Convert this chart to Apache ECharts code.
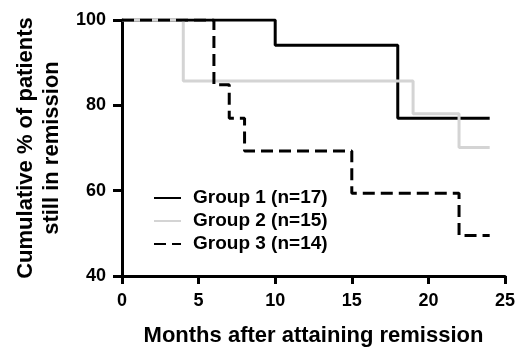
<!DOCTYPE html>
<html>
<head>
<meta charset="utf-8">
<script src="https://cdn.jsdelivr.net/npm/echarts@6/dist/echarts.min.js"></script>
<style>
  html, body { margin: 0; padding: 0; background: #fff; }
  #main { width: 521px; height: 348px; }
</style>
</head>
<body>
<div id="main"></div>
<script>
// Kaplan-Meier style curves
var groupNames = ['Group 1 (n=17)', 'Group 2 (n=15)', 'Group 3 (n=14)'];
var months1 = [0, 10, 18, 24];
var surv1   = [100, 94.1, 77.0, 77.0];
var months2 = [0, 4, 19, 22, 24];
var surv2   = [100, 85.7, 78.0, 70.1, 70.1];
var months3 = [0, 6, 7, 8, 15, 22, 24];
var surv3   = [100, 84.8, 77.0, 69.3, 59.4, 49.5, 49.5];

function pairs(xs, ys) {
  return xs.map(function (x, i) { return [x, ys[i]]; });
}

var font = '"Liberation Sans", Arial, sans-serif';
var chart = echarts.init(document.getElementById('main'), null, { renderer: 'canvas' });

chart.setOption({
  backgroundColor: '#fff',
  animation: false,
  grid: { left: 122, right: 16, top: 20, bottom: 72, outerBoundsMode: 'none', containLabel: false },
  legend: {
    data: groupNames,
    orient: 'vertical',
    left: 153,
    top: 188,
    padding: 0,
    itemWidth: 27,
    itemHeight: 14,
    itemGap: 3,
    itemStyle: { opacity: 0 },
    textStyle: {
      fontFamily: font, fontWeight: 'bold', fontSize: 19, color: '#000',
      lineHeight: 20, padding: [0, 0, 0, 7]
    }
  },
  xAxis: {
    type: 'value',
    min: 0, max: 25, interval: 5,
    name: 'Months after attaining remission',
    nameLocation: 'middle',
    nameGap: 49,
    nameTextStyle: { fontFamily: font, fontWeight: 'bold', fontSize: 22, color: '#000' },
    axisLine: { show: true, onZero: false, lineStyle: { color: '#000', width: 3 } },
    axisTick: { show: true, inside: false, length: 8, lineStyle: { color: '#000', width: 3 } },
    axisLabel: { margin: 16, fontFamily: font, fontWeight: 'bold', fontSize: 18, color: '#000' },
    splitLine: { show: false }
  },
  yAxis: {
    type: 'value',
    min: 40, max: 100, interval: 20,
    name: 'Cumulative % of patients\nstill in remission',
    nameLocation: 'middle',
    nameRotate: 90,
    nameGap: 56,
    nameTextStyle: { fontFamily: font, fontWeight: 'bold', fontSize: 22, color: '#000', lineHeight: 26, align: 'center' },
    axisLine: { show: true, onZero: false, lineStyle: { color: '#000', width: 3 } },
    axisTick: { show: true, inside: false, length: 9, lineStyle: { color: '#000', width: 3 } },
    axisLabel: { margin: 16, fontFamily: font, fontWeight: 'bold', fontSize: 18, color: '#000' },
    splitLine: { show: false }
  },
  series: [
    {
      name: groupNames[0], type: 'line', step: 'end', symbol: 'none',
      data: pairs(months1, surv1),
      itemStyle: { color: '#000' },
      lineStyle: { color: '#000', width: 3 }
    },
    {
      name: groupNames[1], type: 'line', step: 'end', symbol: 'none',
      data: pairs(months2, surv2),
      itemStyle: { color: '#d4d4d4' },
      lineStyle: { color: '#d4d4d4', width: 3 }
    },
    {
      name: groupNames[2], type: 'line', step: 'end', symbol: 'none',
      data: pairs(months3, surv3),
      itemStyle: { color: '#000' },
      lineStyle: { color: '#000', width: 3, type: [12, 6] }
    }
  ]
});
</script>
</body>
</html>
